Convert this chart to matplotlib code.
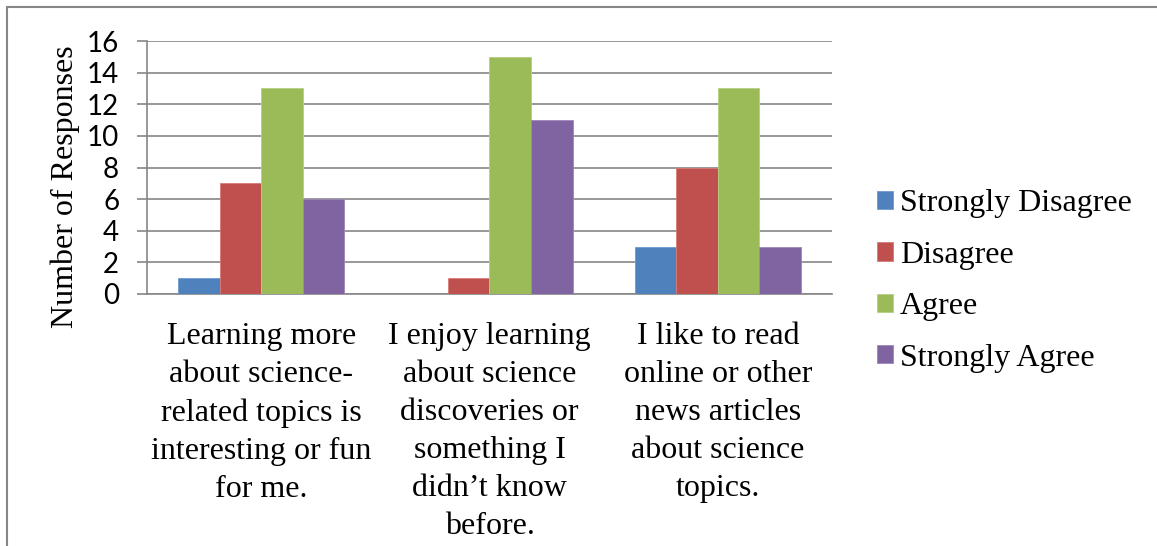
import numpy as np
import matplotlib
matplotlib.use("Agg")
import matplotlib.pyplot as plt
from matplotlib.patches import Rectangle

# Survey data
categories = [
    "Learning more\nabout science-\nrelated topics is\ninteresting or fun\nfor me.",
    "I enjoy learning\nabout science\ndiscoveries or\nsomething I\ndidn\u2019t know\nbefore.",
    "I like to read\nonline or other\nnews articles\nabout science\ntopics.",
]
series_names = ["Strongly Disagree", "Disagree", "Agree", "Strongly Agree"]
strongly_disagree = [1, 0, 3]
disagree = [7, 1, 8]
agree = [13, 15, 13]
strongly_agree = [6, 11, 3]
colors = ["#4F81BD", "#C0504D", "#9BBB59", "#8064A2"]
edges = ["#6F9BD0", "#D67B78", "#B5D07F", "#9C86BA"]

W, H = 1157, 546
fig = plt.figure(figsize=(W / 100, H / 100), dpi=100)

# chart border (only top and left visible)
fig.patches.append(Rectangle((7 / W, -0.1), 1.2, 1 - 7 / H + 0.1,
                             transform=fig.transFigure, fill=False,
                             edgecolor="#868686", lw=1.5))

ax = fig.add_axes([147 / W, (H - 294) / H, (832 - 147) / W, (294 - 41) / H])

serif = "Liberation Serif"
grid_col = "#868686"
fs = 23

values = [strongly_disagree, disagree, agree, strongly_agree]
x = np.arange(len(categories))
width = 1 / 5.5
for i, vals in enumerate(values):
    ax.bar(x + (i - 1.5) * width, vals, width, color=colors[i],
           edgecolor=edges[i], linewidth=0.6, label=series_names[i], zorder=3)

ax.set_xlim(-0.5, 2.5)
ax.set_ylim(0, 16)
ax.set_yticks(range(0, 17, 2))
ax.yaxis.grid(True, color=grid_col, linewidth=1.2)
ax.set_axisbelow(True)

for side in ["top", "right"]:
    ax.spines[side].set_visible(False)
ax.spines["left"].set_color(grid_col)
ax.spines["bottom"].set_color(grid_col)
ax.spines["left"].set_linewidth(1.2)
ax.spines["bottom"].set_linewidth(1.2)

ax.tick_params(axis="y", length=7, width=1.2, color=grid_col, pad=13,
               labelsize=20)
for lab in ax.get_yticklabels():
    lab.set_family("Lato")

ax.set_xticks(x)
ax.set_xticklabels(categories, family=serif, fontsize=fs, linespacing=1.41,
                   va="top")
ax.tick_params(axis="x", length=0, pad=20)

fig.text(65 / W, 1 - 187 / H, "Number of Responses", rotation=90,
         family=serif, fontsize=fs, ha="center", va="center")

fig.legend(loc="center left", bbox_to_anchor=(877 / W, 1 - 281 / H),
           frameon=False, prop={"family": serif, "size": fs},
           handlelength=0.5, handleheight=0.5, handletextpad=0.22,
           labelspacing=0.7, borderpad=0, borderaxespad=0)

fig.savefig("out.png", dpi=100)
